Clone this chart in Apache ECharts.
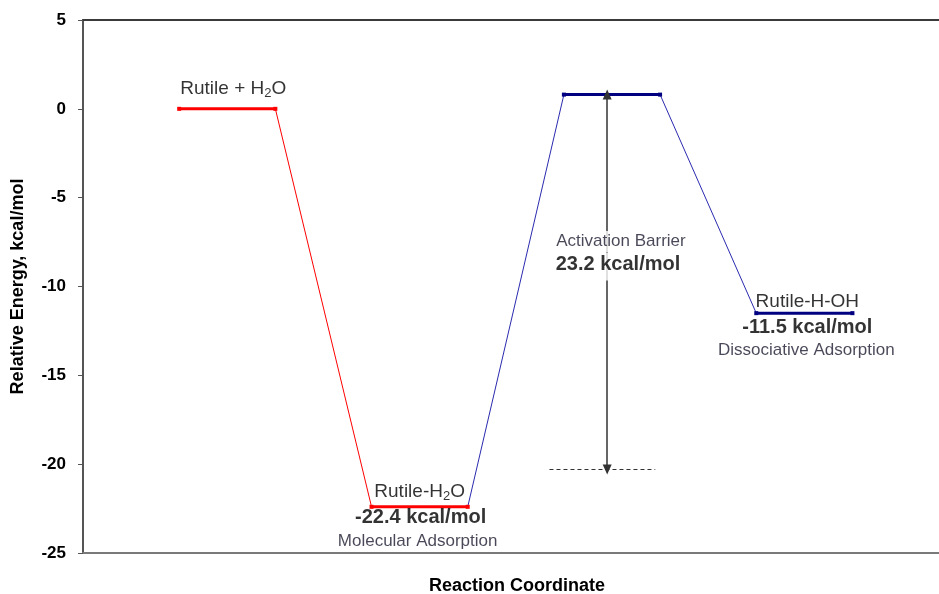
<!DOCTYPE html>
<html>
<head>
<meta charset="utf-8">
<title>Rutile + H2O reaction energy profile</title>
<script src="https://cdn.jsdelivr.net/npm/echarts@6/dist/echarts.min.js"></script>
<style>
  html, body { margin: 0; padding: 0; background: #ffffff; overflow: hidden; }
  #chart { width: 939px; height: 594px; }
</style>
</head>
<body>
<div id="chart"></div>
<script>
// Stationary points along the reaction coordinate (kcal/mol)
const stages = ['Rutile + H2O', 'Rutile-H2O', 'Transition state', 'Rutile-H-OH'];
const energies = [0, -22.4, 0.8, -11.5];
const coordStart = [1, 3, 5, 7];
const coordEnd = [2, 4, 6, 8];
const descriptions = ['', 'Molecular Adsorption', '', 'Dissociative Adsorption'];

// Barrier annotation: arrow from the transition state down to a dashed reference
const barrierCoord = 5.45;
const barrierFloor = -20.3;
const floorStart = 4.85;
const floorEnd = 5.95;

// Axis range
const yMin = -25, yMax = 5, yStep = 5;
const xMin = 0, xMax = 8.9;

const FONT = "'Liberation Sans', Arial, sans-serif";
const RED = '#ff0000';
const NAVY = '#000080';
const BLUE_THIN = '#2a2ab0';
const INK = '#000000';

const stageColor = (i) => (i < 2 ? RED : NAVY);
const fmt = (v) => v.toFixed(1) + ' kcal/mol';

const series = [];

// Horizontal energy levels
stages.forEach((name, i) => {
  series.push({
    name: name,
    type: 'line',
    data: [[coordStart[i], energies[i]], [coordEnd[i], energies[i]]],
    symbol: 'rect',
    symbolSize: 4,
    showSymbol: true,
    lineStyle: { color: stageColor(i), width: 3 },
    itemStyle: { color: stageColor(i) },
    silent: true,
    z: 4
  });
});

// Thin connectors between consecutive levels
for (let i = 0; i < stages.length - 1; i++) {
  series.push({
    type: 'line',
    data: [[coordEnd[i], energies[i]], [coordStart[i + 1], energies[i + 1]]],
    symbol: 'none',
    lineStyle: { color: i === 0 ? RED : BLUE_THIN, width: 1 },
    silent: true,
    z: 3
  });
}

// Barrier arrow and dashed reference line
series.push({
  type: 'line',
  data: [],
  silent: true,
  markLine: {
    silent: true,
    animation: false,
    label: { show: false },
    data: [
      [
        { coord: [barrierCoord, barrierFloor], symbol: 'triangle', symbolSize: [9, 10], symbolRotate: 180 },
        { coord: [barrierCoord, energies[2]], symbol: 'triangle', symbolSize: [9, 10] }
      ],
      [
        { coord: [floorStart, barrierFloor], symbol: 'none', lineStyle: { type: [4, 3], width: 1, color: '#333' } },
        { coord: [floorEnd, barrierFloor], symbol: 'none' }
      ]
    ],
    lineStyle: { color: '#333333', width: 1.5, type: 'solid' }
  },
  z: 2
});

// Text annotations anchored on each level centre
const mid = (i) => (coordStart[i] + coordEnd[i]) / 2;
const rich = {
  n: { fontFamily: FONT, fontSize: 19, color: INK, lineHeight: 22 },
  s: { fontFamily: FONT, fontSize: 13, color: INK, lineHeight: 14, verticalAlign: 'bottom' }
};
function note(i, text, offset, style) {
  return {
    value: [mid(i), energies[i]],
    label: Object.assign({
      show: true,
      position: 'inside',
      formatter: text,
      offset: offset,
      fontFamily: FONT,
      color: INK,
      rich: rich
    }, style)
  };
}
const nameStyle = { fontSize: 19 };
const valueStyle = { fontSize: 20, fontWeight: 'bold' };
const descStyle = { fontSize: 17, color: '#1a1a2e' };

const barrier = energies[2] - energies[1];
const notes = [
  note(0, '{n|Rutile + H}{s|2}{n|O}', [6, -20], nameStyle),
  note(1, '{n|Rutile-H}{s|2}{n|O}', [0, -15], nameStyle),
  note(1, fmt(energies[1]), [1, 11], valueStyle),
  note(1, descriptions[1], [-2, 35], descStyle),
  note(2, 'Activation Barrier', [9, 147], Object.assign({ backgroundColor: '#ffffff', padding: [2, 4] }, descStyle)),
  note(2, fmt(barrier), [6, 172], Object.assign({ backgroundColor: '#ffffff', padding: [2, 4, 6, 4] }, valueStyle)),
  note(3, 'Rutile-H-OH', [3, -11], nameStyle),
  note(3, fmt(energies[3]), [3, 14], valueStyle),
  note(3, descriptions[3], [2, 37], descStyle)
];
series.push({
  type: 'scatter',
  data: notes,
  symbolSize: 1,
  itemStyle: { color: 'rgba(0,0,0,0)' },
  silent: true,
  z: 10
});

const chart = echarts.init(document.getElementById('chart'), null, { renderer: 'canvas' });
chart.setOption({
  backgroundColor: '#ffffff',
  animation: false,
  grid: { left: 83, right: 0, top: 20, bottom: 41, containLabel: false, outerBoundsMode: 'none' },
  xAxis: [
    {
      type: 'value',
      min: xMin,
      max: xMax,
      position: 'bottom',
      name: 'Reaction Coordinate',
      nameLocation: 'middle',
      nameGap: 24,
      nameTextStyle: { fontFamily: FONT, fontSize: 18, fontWeight: 'bold', color: INK, padding: [0, 0, 0, 12] },
      axisLine: { show: true, onZero: false, lineStyle: { color: '#7a7a7a', width: 2 } },
      axisTick: { show: false },
      axisLabel: { show: false },
      splitLine: { show: false }
    },
    {
      type: 'value',
      min: xMin,
      max: xMax,
      position: 'top',
      axisLine: { show: true, onZero: false, lineStyle: { color: '#3a3a3a', width: 2 } },
      axisTick: { show: false },
      axisLabel: { show: false },
      splitLine: { show: false }
    }
  ],
  yAxis: {
    type: 'value',
    min: yMin,
    max: yMax,
    interval: yStep,
    name: 'Relative Energy, kcal/mol',
    nameLocation: 'middle',
    nameGap: 56,
    nameTextStyle: { fontFamily: FONT, fontSize: 18, fontWeight: 'bold', color: INK },
    axisLine: { show: true, onZero: false, lineStyle: { color: '#555555', width: 2 } },
    axisTick: { show: true, inside: false, length: 5, lineStyle: { color: '#555555', width: 1 } },
    axisLabel: { fontFamily: FONT, fontSize: 17, fontWeight: 'bold', color: INK, margin: 17 },
    splitLine: { show: false }
  },
  series: series
});
</script>
</body>
</html>
